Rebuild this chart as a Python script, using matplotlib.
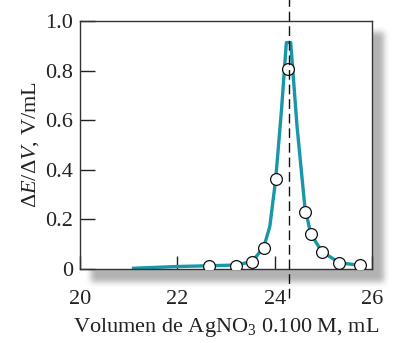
import numpy as np
import matplotlib
matplotlib.use('Agg')
import matplotlib.pyplot as plt

# measured points (mL, V/mL)
vol_pts = [22.65, 23.20, 23.54, 23.78, 24.02, 24.27, 24.62, 24.74, 24.97, 25.33, 25.75]
dEdV_pts = [0.012, 0.013, 0.030, 0.086, 0.363, 0.805, 0.228, 0.142, 0.070, 0.025, 0.015]

# hand-drawn curve through the points
curve_vol = [21.10, 21.98, 22.65, 23.20, 23.54, 23.78, 23.90, 24.02, 24.14, 24.24,
             24.33, 24.46, 24.62, 24.74, 24.97, 25.33, 25.75]
curve_dEdV = [0.003, 0.010, 0.013, 0.016, 0.030, 0.090, 0.171, 0.360, 0.641, 0.913,
              0.913, 0.574, 0.251, 0.142, 0.070, 0.025, 0.015]

endpoint = 24.30
xticks = [20, 22, 24, 26]
yticks = [0, 0.2, 0.4, 0.6, 0.8, 1.0]
ytick_labels = ['0', '0.2', '0.4', '0.6', '0.8', '1.0']

plt.rcParams['font.family'] = ['Liberation Serif', 'DejaVu Serif']
plt.rcParams['mathtext.fontset'] = 'custom'
plt.rcParams['mathtext.rm'] = 'Liberation Serif'
plt.rcParams['mathtext.it'] = 'Liberation Serif:italic'
plt.rcParams['font.size'] = 16
text_col = '#222222'

W, H, DPI = 400, 343, 100
fig = plt.figure(figsize=(W / DPI, H / DPI), dpi=DPI)
fig.patch.set_facecolor('white')

# axes box in pixels (left, top, right, bottom)
L, T, R, B = 80, 21, 372, 269
ax = fig.add_axes([L / W, 1 - B / H, (R - L) / W, (B - T) / H])

# soft drop shadow behind the box
mask = np.zeros((H, W))
mask[T + 11:B + 13, L + 11:R + 12] = 1.0
k = np.ones(7) / 7
for _ in range(2):
    mask = np.apply_along_axis(lambda r: np.convolve(r, k, mode='same'), 1, mask)
    mask = np.apply_along_axis(lambda c: np.convolve(c, k, mode='same'), 0, mask)
shadow = np.zeros((H, W, 4))
shadow[..., :3] = 0.5
shadow[..., 3] = mask * 0.6
fig.figimage(shadow, 0, 0, origin='upper', zorder=-5)

ax.set_facecolor('white')
ax.plot(curve_vol, curve_dEdV, color='#1797a9', lw=2.4, solid_joinstyle='round',
        zorder=2)
ax.plot(vol_pts, dEdV_pts, 'o', ms=8.5, mfc='white', mec='#111111', mew=0.9,
        zorder=3)
ax.axvline(endpoint, ymin=-0.115, ymax=1.09, color='#111111', lw=1.0,
           dashes=(7, 3.5), clip_on=False, zorder=4)

ax.set_xlim(20, 26)
ax.set_ylim(0, 1.0)
ax.set_xticks(xticks)
ax.set_yticks(yticks)
ax.set_yticklabels(ytick_labels)
ax.tick_params(axis='x', direction='in', length=9.5, width=1.0, pad=15,
               colors='#222222', labelsize=16)
ax.tick_params(axis='y', direction='in', length=10.5, width=1.0, pad=5,
               colors='#222222', labelsize=16)
for s in ax.spines.values():
    s.set_color('#333333')
    s.set_linewidth(1.0)

ax.set_xlabel('Volumen de AgNO$_3$ 0.100 M, mL', color=text_col, labelpad=5)
ax.set_ylabel(r'$\Delta\mathit{E}/\Delta\mathit{V}$, V/mL', color=text_col,
              labelpad=3)

fig.savefig('out.png', dpi=DPI, facecolor='white')
